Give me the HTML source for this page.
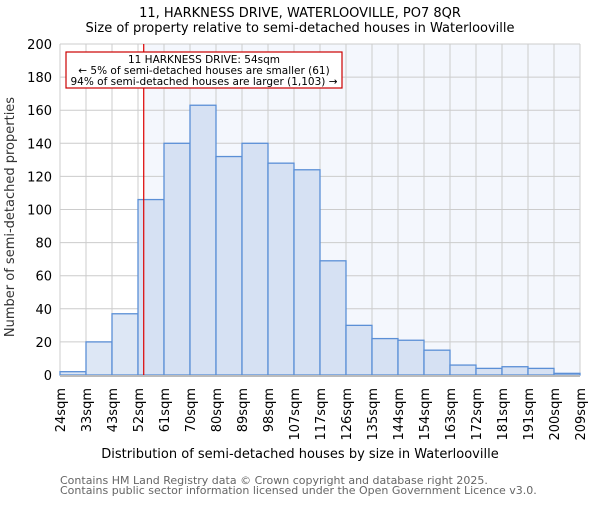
<!DOCTYPE html>
<html><head><meta charset="utf-8"><style>body{margin:0;background:#fff}svg{font-family:"DejaVu Sans","Liberation Sans",sans-serif}</style></head>
<body>
<svg id="c" width="600" height="500" xmlns="http://www.w3.org/2000/svg">
<text x="300" y="17" text-anchor="middle" font-size="13">11, HARKNESS DRIVE, WATERLOOVILLE, PO7 8QR</text>
<text x="300" y="32" text-anchor="middle" font-size="13">Size of property relative to semi-detached houses in Waterlooville</text>
<g id="plot"></g>
<text x="300" y="458" text-anchor="middle" font-size="13">Distribution of semi-detached houses by size in Waterlooville</text>
<text transform="translate(14,217) rotate(-90)" text-anchor="middle" font-size="13" fill="#333">Number of semi-detached properties</text>
<text x="60" y="484" font-size="11" fill="#666">Contains HM Land Registry data © Crown copyright and database right 2025.</text>
<text x="60" y="494" font-size="11" fill="#666">Contains public sector information licensed under the Open Government Licence v3.0.</text>
</svg>
<script>
const binLabels=["24sqm","33sqm","43sqm","52sqm","61sqm","70sqm","80sqm","89sqm","98sqm","107sqm","117sqm","126sqm","135sqm","144sqm","154sqm","163sqm","172sqm","181sqm","191sqm","200sqm","209sqm"];
const counts=[2,20,37,106,140,163,132,140,128,124,69,30,22,21,15,6,4,5,4,1];
const yTicks=[0,20,40,60,80,100,120,140,160,180,200];
const markerIndex=3.22;
const NS="http://www.w3.org/2000/svg";
const L=60,R=580,T=44,B=375,n=counts.length,bw=(R-L)/n;
const xs=i=>L+i*bw, ys=v=>B-(v/200)*(B-T);
const g=document.getElementById('plot');
function mk(t,a){const e=document.createElementNS(NS,t);for(const k in a)e.setAttribute(k,a[k]);g.appendChild(e);return e;}
const mx=xs(markerIndex);
let e=mk('rect',{x:mx,y:T,width:R-mx,height:B-T,fill:'#f4f7fd'});


yTicks.forEach(v=>{let l=mk('line',{x1:L,x2:R,y1:ys(v),y2:ys(v),stroke:'#ccc'});


let t=mk('text',{x:L-8,y:ys(v)+5,'text-anchor':'end','font-size':13});t.textContent=v;

});
binLabels.forEach((s,i)=>{let l=mk('line',{x1:xs(i),x2:xs(i),y1:T,y2:B,stroke:'#ccc'});


let t=mk('text',{transform:`translate(${xs(i)+5},388) rotate(-90)`,'text-anchor':'end','font-size':13});t.textContent=s;

});
counts.forEach((v,i)=>{let r=mk('rect',{x:xs(i),y:ys(v),width:bw,height:B-ys(v),fill:i<3?'#dde7f5':'#d6e1f3',stroke:'#5b8fd6','stroke-width':1.3});

});
e=mk('line',{x1:L,x2:R,y1:B+1,y2:B+1,stroke:'#bbb','stroke-width':2});


e=mk('line',{x1:mx,x2:mx,y1:T,y2:B,stroke:'#d00','stroke-width':1.2});


e=mk('rect',{x:66,y:52,width:276,height:36,fill:'#fff',stroke:'#c00','stroke-width':1.2});


["11 HARKNESS DRIVE: 54sqm","← 5% of semi-detached houses are smaller (61)","94% of semi-detached houses are larger (1,103) →"].forEach((s,i)=>{let t=mk('text',{x:204,y:63+i*11,'text-anchor':'middle','font-size':10.5});t.textContent=s;

});
</script>
</body></html>
